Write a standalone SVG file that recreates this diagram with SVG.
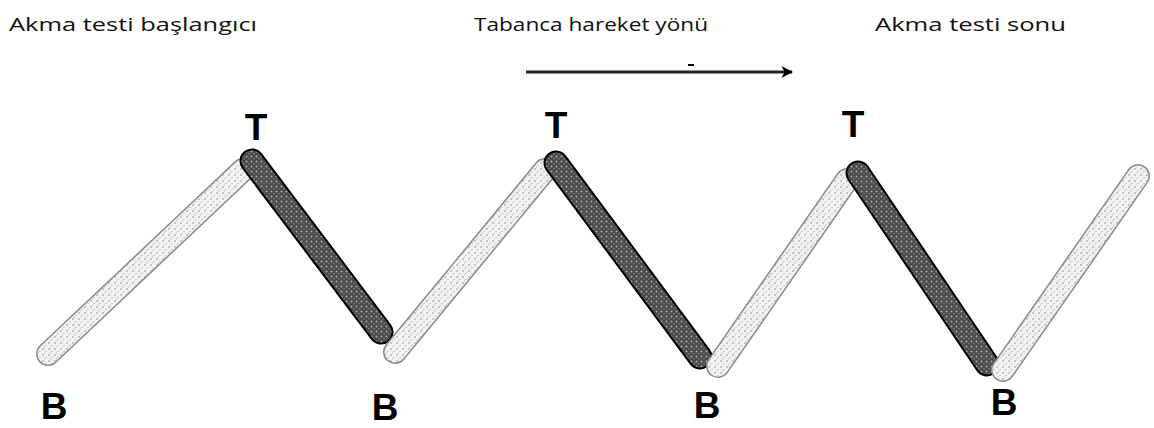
<svg xmlns="http://www.w3.org/2000/svg" width="1154" height="428" viewBox="0 0 1154 428">
<style>
.cap{font-family:"Open Sans","Liberation Sans",Arial,sans-serif;font-size:19px;fill:#111}
.lbl{font-family:"Liberation Sans",Arial,sans-serif;font-size:37px;font-weight:bold;fill:#000;text-anchor:middle}
.lo{fill:none;stroke:#8a8a8a;stroke-width:24;stroke-linecap:round}
.li{fill:none;stroke:url(#light);stroke-width:21;stroke-linecap:round}
.do{fill:none;stroke:#000;stroke-width:25;stroke-linecap:round}
.di{fill:none;stroke:url(#dark);stroke-width:21;stroke-linecap:round}
</style>
<defs>
<pattern id="light" width="6" height="6" patternUnits="userSpaceOnUse">
<rect width="6" height="6" fill="#f2f2f2"/>
<circle cx="1" cy="1" r="0.7" fill="#777"/>
<circle cx="4" cy="3.5" r="0.6" fill="#999"/>
<circle cx="2.5" cy="5" r="0.5" fill="#aaa"/>
</pattern>
<pattern id="dark" width="5" height="5" patternUnits="userSpaceOnUse">
<rect width="5" height="5" fill="#4a4a4a"/>
<circle cx="1.5" cy="1.5" r="1" fill="#b0b0b0"/>
<circle cx="4" cy="3.8" r="0.8" fill="#8a8a8a"/>
</pattern>
<marker id="ah" viewBox="0 0 10 10" refX="9" refY="5" markerWidth="4" markerHeight="4" orient="auto" markerUnits="strokeWidth">
<path d="M0,0 L10,5 L0,10 L3,5 Z" fill="#000"/>
</marker>
</defs>
<g id="captions">
<text class="cap" x="9" y="31" textLength="248" lengthAdjust="spacingAndGlyphs">Akma testi başlangıcı</text>
<text class="cap" x="474" y="31" textLength="234" lengthAdjust="spacingAndGlyphs">Tabanca hareket yönü</text>
<text class="cap" x="875" y="31" textLength="191" lengthAdjust="spacingAndGlyphs">Akma testi sonu</text>
</g>
<g id="connectors">
<line x1="526" y1="72" x2="792" y2="72" stroke="#222" stroke-width="3" marker-end="url(#ah)"/>
<line x1="688" y1="65" x2="694" y2="65" stroke="#000" stroke-width="2"/>
</g>
<g id="bars">
<g id="light1"><line class="lo" x1="48" y1="354" x2="243" y2="170"/><line class="li" x1="48" y1="354" x2="243" y2="170"/></g>
<g id="dark1"><line class="do" x1="252" y1="161" x2="381" y2="332"/><line class="di" x1="252" y1="161" x2="381" y2="332"/></g>
<g id="light2"><line class="lo" x1="395" y1="352" x2="545" y2="170"/><line class="li" x1="395" y1="352" x2="545" y2="170"/></g>
<g id="dark2"><line class="do" x1="556" y1="163" x2="700" y2="357"/><line class="di" x1="556" y1="163" x2="700" y2="357"/></g>
<g id="light3"><line class="lo" x1="718" y1="366" x2="847" y2="180"/><line class="li" x1="718" y1="366" x2="847" y2="180"/></g>
<g id="dark3"><line class="do" x1="858" y1="173" x2="987" y2="364"/><line class="di" x1="858" y1="173" x2="987" y2="364"/></g>
<g id="light4"><line class="lo" x1="1003" y1="370" x2="1138" y2="176"/><line class="li" x1="1003" y1="370" x2="1138" y2="176"/></g>
</g>
<g id="labels">
<text class="lbl" x="256" y="140">T</text>
<text class="lbl" x="556" y="138">T</text>
<text class="lbl" x="853" y="137">T</text>
<text class="lbl" x="54" y="419">B</text>
<text class="lbl" x="385" y="420">B</text>
<text class="lbl" x="707" y="418">B</text>
<text class="lbl" x="1004" y="415">B</text>
</g>
</svg>
